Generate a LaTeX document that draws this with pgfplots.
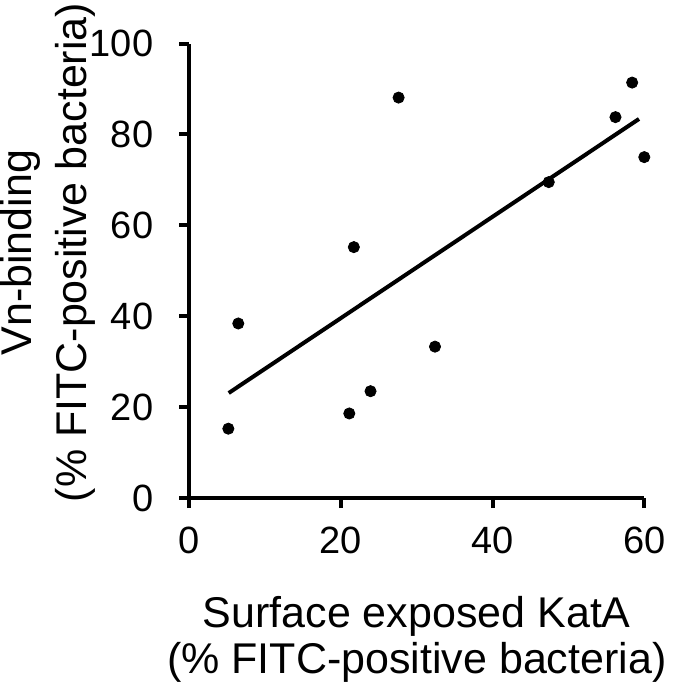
\documentclass[border=0pt]{standalone}
\usepackage{pgfplots}
\pgfplotsset{compat=1.18}
\usepackage{fontspec}
\setmainfont{Liberation Sans}

\begin{document}
\begin{tikzpicture}
\begin{axis}[
  width=227.5pt, height=227.25pt, scale only axis,
  xmin=0, xmax=60, ymin=0, ymax=100,
  axis x line*=bottom, axis y line*=left,
  axis line style={line width=2pt, -},
  xtick={0,20,40,60}, ytick={0,20,40,60,80,100},
  tick align=outside, major tick length=5pt,
  every tick/.style={line width=2pt, black},
  tick label style={font=\fontsize{19}{20}\selectfont},
  xticklabel style={yshift=-6pt},
  yticklabel style={xshift=-9.5pt},
  /pgf/number format/assume math mode=true,
  xlabel={Surface exposed KatA\\(\% FITC-positive bacteria)},
  ylabel={Vn-binding\\(\% FITC-positive bacteria)},
  xlabel style={font=\fontsize{21.5}{23}\selectfont, align=center, inner sep=0pt,
    at={(axis description cs:0.5,-0.311)}, anchor=center},
  ylabel style={font=\fontsize{21.5}{27.5}\selectfont, align=center, inner sep=0pt,
    at={(axis description cs:-0.311,0.54)}, anchor=center},
  clip=false,
]
\addplot[only marks, mark=*, mark size=2.8pt, black] coordinates {
  (5.15,15.25) (6.46,38.4) (21.1,18.6) (21.7,55.2) (23.9,23.5) (27.6,88.1)
  (32.4,33.3) (47.4,69.5) (56.2,83.8) (58.4,91.4) (60.0,75.0)};
\addplot[black, line width=2pt] coordinates {(5.2,23.1) (59.3,83.4)};
\coordinate (bl) at (rel axis cs:0,0);
\coordinate (tr) at (rel axis cs:1,1);
\end{axis}
\path ([shift={(-94.65pt,-97pt)}]bl) rectangle ([shift={(15.35pt,21.75pt)}]tr);
\end{tikzpicture}
\end{document}
